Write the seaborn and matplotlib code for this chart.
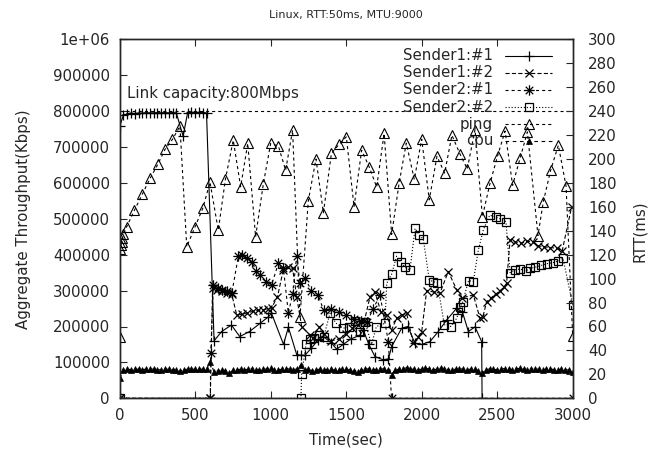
import numpy as np
import matplotlib
matplotlib.use("Agg")
import matplotlib.pyplot as plt
from matplotlib.lines import Line2D
from matplotlib.path import Path
from matplotlib.ticker import FixedLocator, FuncFormatter
import seaborn as sns

# ---- throughput of each flow (Kbps) ----
s1f1_time = [0, 25, 50, 75, 100, 125, 150, 175, 200, 225, 250, 275, 300, 325, 350, 375,
             420, 450, 475, 500, 525, 550, 575, 625, 675, 740, 795, 860, 930, 985, 1005,
             1085, 1117, 1172, 1200, 1227, 1270, 1313, 1349, 1400, 1437, 1480, 1530, 1591,
             1613, 1650, 1691, 1746, 1780, 1801, 1867, 1909, 1955, 2000, 2055, 2110, 2165,
             2232, 2270, 2309, 2353, 2397, 2400]
s1f1_kbps = [758000, 789000, 792000, 795000, 793000, 795000, 794000, 796000, 795000, 795000,
             796000, 795000, 796000, 795000, 796000, 795000, 730000, 796000, 797000, 796000,
             797000, 796000, 795000, 160000, 186000, 204000, 172000, 186000, 209000, 227000,
             237000, 150000, 198000, 122000, 120000, 120000, 140000, 162000, 172000, 155000,
             137000, 150000, 165000, 176000, 190000, 150000, 116000, 107000, 110000, 144000,
             195000, 200000, 153000, 150000, 158000, 186000, 218000, 251000, 240000, 186000,
             199000, 158000, 0]

s1f2_time = [0, 600, 615, 645, 675, 710, 742, 775, 810, 845, 880, 915, 950, 985, 1006, 1045,
             1083, 1115, 1145, 1172, 1205, 1262, 1283, 1320, 1350, 1400, 1450, 1500, 1540,
             1580, 1620, 1658, 1690, 1730, 1768, 1800, 1834, 1870, 1900, 1944, 1975, 2000,
             2033, 2080, 2121, 2176, 2232, 2270, 2342, 2386, 2405, 2430, 2460, 2490, 2520,
             2545, 2562, 2585, 2620, 2660, 2700, 2737, 2770, 2810, 2850, 2894, 2930, 2993]
s1f2_kbps = [0, 0, 306000, 302000, 298000, 294000, 290000, 232000, 234000, 238000, 242000,
             245000, 246000, 250000, 252000, 283000, 357000, 366000, 362000, 283000, 200000,
             175000, 168000, 200000, 180000, 160000, 165000, 180000, 195000, 205000, 215000,
             283000, 297000, 240000, 232000, 190000, 223000, 232000, 237000, 153000, 170000,
             186000, 300000, 296000, 293000, 353000, 302000, 280000, 288000, 223000, 227000,
             269000, 280000, 290000, 300000, 310000, 320000, 441000, 436000, 432000, 438000,
             436000, 425000, 422000, 420000, 418000, 410000, 534000]

s2f1_time = [0, 600, 603, 620, 650, 680, 710, 742, 786, 808, 840, 874, 905, 929, 970, 1006,
             1051, 1084, 1117, 1145, 1172, 1194, 1227, 1270, 1315, 1350, 1400, 1450, 1500,
             1550, 1600, 1636, 1680, 1724, 1779, 1800, 3000]
s2f1_kbps = [0, 0, 125000, 316000, 308000, 303000, 298000, 292000, 396000, 400000, 390000,
             380000, 355000, 343000, 325000, 316000, 376000, 362000, 237000, 290000, 396000,
             320000, 334000, 300000, 288000, 245000, 250000, 240000, 232000, 222000, 215000,
             212000, 250000, 288000, 158000, 0, 0]

s2f2_time = [0, 1200, 1205, 1234, 1262, 1290, 1320, 1350, 1393, 1430, 1480, 1520, 1560, 1591,
             1624, 1668, 1700, 1757, 1768, 1801, 1834, 1860, 1890, 1922, 1956, 1985, 2011,
             2050, 2075, 2103, 2150, 2192, 2232, 2255, 2272, 2310, 2342, 2375, 2408, 2450,
             2490, 2520, 2558, 2585, 2620, 2650, 2690, 2720, 2750, 2790, 2830, 2870, 2900,
             2936, 3000]
s2f2_kbps = [0, 0, 68000, 151000, 165000, 168000, 175000, 170000, 237000, 210000, 195000,
             200000, 215000, 186000, 213000, 150000, 200000, 209000, 320000, 346000, 396000,
             380000, 365000, 357000, 473000, 455000, 443000, 330000, 325000, 322000, 205000,
             200000, 223000, 255000, 269000, 328000, 325000, 413000, 469000, 510000, 505000,
             500000, 492000, 350000, 358000, 360000, 355000, 362000, 365000, 370000, 375000,
             378000, 382000, 390000, 260000]

# ---- round-trip time of ping (ms) ----
ping_time = [0, 3, 8, 13, 18, 25, 46, 97, 150, 201, 252, 300, 349, 399, 444, 499, 550, 598,
             653, 700, 752, 801, 848, 900, 951, 1000, 1051, 1099, 1145, 1194, 1249, 1300,
             1349, 1402, 1452, 1501, 1552, 1602, 1651, 1702, 1751, 1801, 1850, 1898, 1951,
             2000, 2050, 2101, 2152, 2200, 2254, 2302, 2353, 2402, 2452, 2502, 2552, 2602,
             2651, 2700, 2770, 2805, 2854, 2905, 2956, 3000]
ping_ms = [51.5, 125, 128, 131, 134, 137, 143.3, 157, 170.6, 183.7, 195.4, 208, 216.3, 227.4,
           126.6, 143.3, 158.7, 180.5, 140.5, 183, 215.7, 176.7, 213, 135, 179, 213, 210.7,
           190.6, 224, 68, 165, 200, 155, 204.6, 212.2, 218.5, 160, 207.3, 193.7, 176.5,
           221.3, 137, 179.5, 213.3, 182.9, 216.6, 165.8, 202.2, 188.2, 219.9, 204, 191.6,
           224.6, 151.7, 179.5, 202.3, 223.3, 178, 200.4, 222.6, 136, 164, 190.6, 211.5,
           177.3, 52]

# ---- cpu load, sampled every 25 s (plotted on the right axis) ----
cpu_time = np.arange(0, 3001, 25)
cpu_load = [16.7,
            23.8, 24.3, 24.0, 24.6, 24.2, 23.9, 24.4, 24.1, 24.5, 24.0, 23.7, 24.2,
            24.4, 24.0, 23.6, 22.4, 23.9, 24.3, 24.5, 24.1, 24.6, 24.2, 24.4,
            30.5, 22.0, 23.0, 23.6, 23.2, 21.0,
            23.4, 23.9, 24.2, 23.6, 24.4, 24.8, 23.8, 23.5, 24.1, 24.6, 25.2, 24.0,
            23.7, 24.3, 24.9, 24.4, 23.9, 24.6,
            27.8,
            23.5, 24.1, 23.2, 23.8, 24.3, 23.6, 24.0, 24.5, 23.4, 23.9, 24.6, 24.2,
            23.7, 23.1, 22.3, 23.6, 24.2, 24.8, 24.0, 23.5, 24.3, 24.7, 23.9,
            19.5,
            23.8, 24.3, 24.9, 25.4, 24.6, 24.1, 23.5, 24.4, 25.0, 24.6, 23.9, 24.3,
            25.2, 24.7, 24.0, 23.6, 24.4, 24.9, 24.2, 23.8, 24.5, 24.1, 23.2,
            20.9,
            24.0, 24.5, 24.2, 23.8, 24.4, 24.9, 24.3, 23.9, 24.6, 25.0, 24.4, 24.0,
            24.5, 24.8, 24.2, 23.8, 24.3, 24.6, 24.0, 23.7, 24.2, 23.9, 23.6, 22.2]

link_capacity_kbps = 800000

sns.set_style("ticks")
plt.rcParams["font.family"] = ["DejaVu Sans"]
plt.rcParams["lines.scale_dashes"] = False
plt.rcParams["axes.linewidth"] = 1.0

FS = 10.8
W, H = 648, 453
fig = plt.figure(figsize=(W / 100, H / 100), dpi=100)
L, R, T, B = 119.7, 572.7, 39.3, 398.3
ax = fig.add_axes([L / W, 1 - B / H, (R - L) / W, (B - T) / H])
ax2 = ax.twinx()

# gnuplot-style asterisk: a plus and a cross drawn together
asterisk = Path([(-1, 0), (1, 0), (0, -1), (0, 1), (-.72, -.72), (.72, .72), (-.72, .72), (.72, -.72)],
                [Path.MOVETO, Path.LINETO] * 4)

styles = {
    "Sender1:#1": dict(marker="+", markersize=6.5, markeredgewidth=0.9,
                       markerfacecolor="black", linestyle="-"),
    "Sender1:#2": dict(marker="x", markersize=6, markeredgewidth=0.9,
                       markerfacecolor="black", linestyle=(0, (3.0, 1.6))),
    "Sender2:#1": dict(marker=asterisk, markersize=7.5, markeredgewidth=0.9,
                       markerfacecolor="none", linestyle=(0, (2.2, 2.2))),
    "Sender2:#2": dict(marker="s", markersize=6, markeredgewidth=0.9,
                       markerfacecolor="none", linestyle=(0, (0.8, 1.4))),
    "ping": dict(marker="^", markersize=6.5, markeredgewidth=0.8,
                 markerfacecolor="none", linestyle=(0, (2.2, 2.2))),
    "cpu": dict(marker="^", markersize=4.2, markeredgewidth=0.5,
                markerfacecolor="black", linestyle=(0, (2.6, 2.6))),
}
series = [
    ("Sender1:#1", s1f1_time, s1f1_kbps, ax),
    ("Sender1:#2", s1f2_time, s1f2_kbps, ax),
    ("Sender2:#1", s2f1_time, s2f1_kbps, ax),
    ("Sender2:#2", s2f2_time, s2f2_kbps, ax),
    ("ping", ping_time, ping_ms, ax2),
    ("cpu", cpu_time, cpu_load, ax2),
]

for name, xs, ys, target in series:
    sns.lineplot(x=xs, y=ys, ax=target, color="black", estimator=None, sort=False,
                 linewidth=0.8, markeredgecolor="black", legend=False, **styles[name])

ax.axhline(link_capacity_kbps, color="black", linewidth=0.8, linestyle=(0, (2.2, 2.2)))
ax.text(46, 850000, "Link capacity:800Mbps", fontsize=FS, ha="left", va="center")

ax.set_xlim(0, 3000)
ax.set_ylim(0, 1000000)
ax2.set_ylim(0, 300)
ax.xaxis.set_major_locator(FixedLocator([0, 500, 1000, 1500, 2000, 2500, 3000]))
ax.yaxis.set_major_locator(FixedLocator(list(range(0, 1000001, 100000))))
ax.yaxis.set_major_formatter(FuncFormatter(lambda v, p: "1e+06" if v >= 1e6 else f"{int(v)}"))
ax2.yaxis.set_major_locator(FixedLocator(list(range(0, 301, 20))))
ax.set_xlabel("")
ax.set_ylabel("")
ax2.set_ylabel("")

ax.tick_params(axis="both", direction="in", length=5, width=0.8, labelsize=FS, pad=7)
ax.tick_params(axis="x", top=True, labeltop=False)
ax.tick_params(axis="y", left=True, right=False)
ax2.tick_params(axis="y", direction="in", length=5, width=0.8, labelsize=FS, pad=11,
                right=True, left=False)
for a in (ax, ax2):
    for s in a.spines.values():
        s.set_visible(True)
        s.set_linewidth(1.0)

fig.text((L + R) / 2 / W, 1 - 15 / H, "Linux, RTT:50ms, MTU:9000", fontsize=8,
         ha="center", va="center")
fig.text((L + R) / 2 / W, 1 - 440 / H, "Time(sec)", fontsize=FS, ha="center", va="center")
fig.text(23.5 / W, 1 - 219 / H, "Aggregate Throughput(Kbps)", fontsize=FS,
         rotation=90, ha="center", va="center")
fig.text(640 / W, 1 - 231 / H, "RTT(ms)", fontsize=FS, rotation=90,
         ha="center", va="center")

# key in the top-right corner: right-aligned names, then a line sample with its marker
key_text_right, key_line = 493, (505, 552)
for i, (name, _, _, _) in enumerate(series):
    yk = 1 - (56 + 17 * i) / H
    st = styles[name]
    fig.text(key_text_right / W, yk, name, fontsize=FS, ha="right", va="center")
    fig.add_artist(Line2D([key_line[0] / W, key_line[1] / W], [yk, yk],
                          transform=fig.transFigure, color="black", linewidth=0.8,
                          linestyle=st["linestyle"]))
    fig.add_artist(Line2D([(key_line[0] + key_line[1]) / 2 / W], [yk],
                          transform=fig.transFigure, color="black", linestyle="none",
                          marker=st["marker"], markersize=st["markersize"],
                          markeredgewidth=st["markeredgewidth"],
                          markerfacecolor=st["markerfacecolor"], markeredgecolor="black"))

fig.savefig("out.png", dpi=100)
